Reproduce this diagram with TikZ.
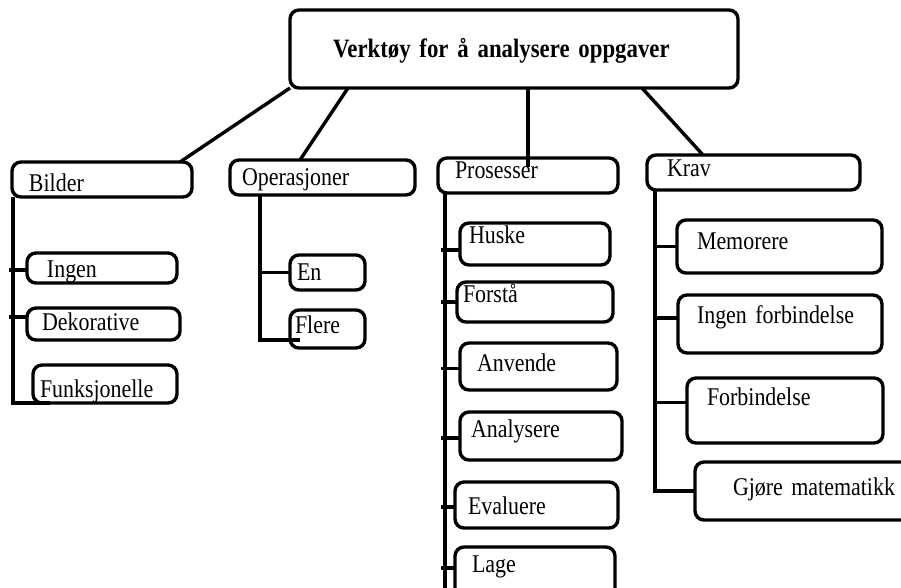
\documentclass[tikz,border=0pt]{standalone}
\usepackage{fontspec}
\setmainfont{Liberation Serif}[FakeStretch=0.86,WordSpace=0.8]
\usetikzlibrary{positioning,calc}
\tikzset{
  card/.style={draw=black,line width=3.4pt,rounded corners=9pt,
               anchor=north west,align=left,inner xsep=0pt,inner ysep=0pt,
               outer sep=0pt,font=\fontsize{25.5}{29}\selectfont},
  link/.style={draw=black,line width=3.4pt}
}

\begin{document}
\begin{tikzpicture}[x=1pt,y=-1pt]
    \path[use as bounding box] (0,0) rectangle (901,587);
    % top
    \node[card,text width=448pt,text height=47pt,text depth=31pt,
          font=\fontsize{26.5}{30}\selectfont\bfseries] (top) at (290,10)
      {\hspace*{43pt}Verktøy for å analysere oppgaver};

    % categories
    \node[card,text width=180pt,text height=29pt,text depth=6pt] (bilder) at (12,162)
      {\hspace*{17pt}Bilder};
    \node[card,text width=185pt,text height=25pt,text depth=10pt] (oper) at (230,160)
      {\hspace*{12pt}Operasjoner};
    \node[card,text width=180pt,text height=20pt,text depth=15pt] (pros) at (438,158)
      {\hspace*{17pt}Prosesser};
    \node[card,text width=213pt,text height=21pt,text depth=14pt] (krav) at (647,155)
      {\hspace*{20pt}Krav};

    % Bilder
    \node[card,text width=150pt,text height=24pt,text depth=6pt] (ingen) at (27,253)
      {\hspace*{20pt}Ingen};
    \node[card,text width=153pt,text height=22pt,text depth=10pt] (deko) at (27,308)
      {\hspace*{15pt}Dekorative};
    \node[card,text width=144pt,text height=32pt,text depth=6pt] (funk) at (33,365)
      {\hspace*{7pt}Funksjonelle};

    % Operasjoner
    \node[card,text width=75pt,text height=25pt,text depth=10pt] (en) at (290,255)
      {\hspace*{7pt}En};
    \node[card,text width=75pt,text height=23pt,text depth=15pt] (flere) at (290,310)
      {\hspace*{5pt}Flere};

    % Prosesser
    \node[card,text width=150pt,text height=20pt,text depth=22pt] (huske) at (460,223)
      {\hspace*{9pt}Huske};
    \node[card,text width=156pt,text height=20pt,text depth=20pt] (forsta) at (457,282)
      {\hspace*{6pt}Forstå};
    \node[card,text width=157pt,text height=28pt,text depth=19pt] (anvende) at (460,343)
      {\hspace*{17pt}Anvende};
    \node[card,text width=162pt,text height=25pt,text depth=23pt] (analysere) at (460,412)
      {\hspace*{11pt}Analysere};
    \node[card,text width=163pt,text height=32pt,text depth=14pt] (evaluere) at (455,482)
      {\hspace*{13pt}Evaluere};
    \node[card,text width=160pt,text height=25pt,text depth=33pt] (lage) at (455,547)
      {\hspace*{17pt}Lage};

    % Krav
    \node[card,text width=205pt,text height=29pt,text depth=24pt] (memorere) at (677,220)
      {\hspace*{20pt}Memorere};
    \node[card,text width=204pt,text height=28pt,text depth=30pt] (ingenforb) at (678,295)
      {\hspace*{19pt}Ingen forbindelse};
    \node[card,text width=196pt,text height=27pt,text depth=38pt] (forb) at (687,378)
      {\hspace*{20pt}Forbindelse};
    \node[card,text width=225pt,text height=33pt,text depth=25pt] (gjore) at (695,462)
      {\hspace*{38pt}Gjøre matematikk};

    % top to categories
    \draw[link] (top.south west) -- ([xshift=-12pt]bilder.north east);
    \draw[link] ([xshift=58pt]top.south west) -- ([xshift=70pt]oper.north west);
    \draw[link] (pros.north |- top.south) -- ([yshift=-9pt]pros.north);
    \draw[link] ([xshift=-96pt]top.south east) -- ([xshift=56pt]krav.north west);

    % trunks
    \coordinate (bilt) at ([xshift=1pt]bilder.south west);
    \coordinate (opt) at ([xshift=30pt]oper.south west);
    \coordinate (prost) at ([xshift=7pt]pros.south west);
    \coordinate (prosend) at (prost |- lage.south);
    \coordinate (kravt) at ([xshift=8pt]krav.south west);

    \draw[link] (bilt) |- ([xshift=17pt]funk.south west);
    \foreach \n/\s in {ingen/-2,deko/7}
      \draw[link] ([xshift=-4pt,yshift=\s pt]\n.west -| bilt) -- ([yshift=\s pt]\n.west);

    \draw[link] (opt) |- ([xshift=10pt,yshift=8pt]flere.south west);
    \draw[link] (en.west -| opt) -- (en.west);

    \draw[link] (prost) -- (prosend);
    \foreach \n/\s in {huske/-6,forsta/0,anvende/-2,analysere/-2,evaluere/-2,lage/8}
      \draw[link] ([xshift=-4pt,yshift=\s pt]\n.west -| prost) -- ([yshift=\s pt]\n.west);

    \draw[link] (kravt) |- (gjore.west);
    \foreach \n/\s in {memorere/0,ingenforb/6,forb/8}
      \draw[link] ([yshift=\s pt]\n.west -| kravt) -- ([yshift=\s pt]\n.west);
  \end{tikzpicture}
\end{document}
